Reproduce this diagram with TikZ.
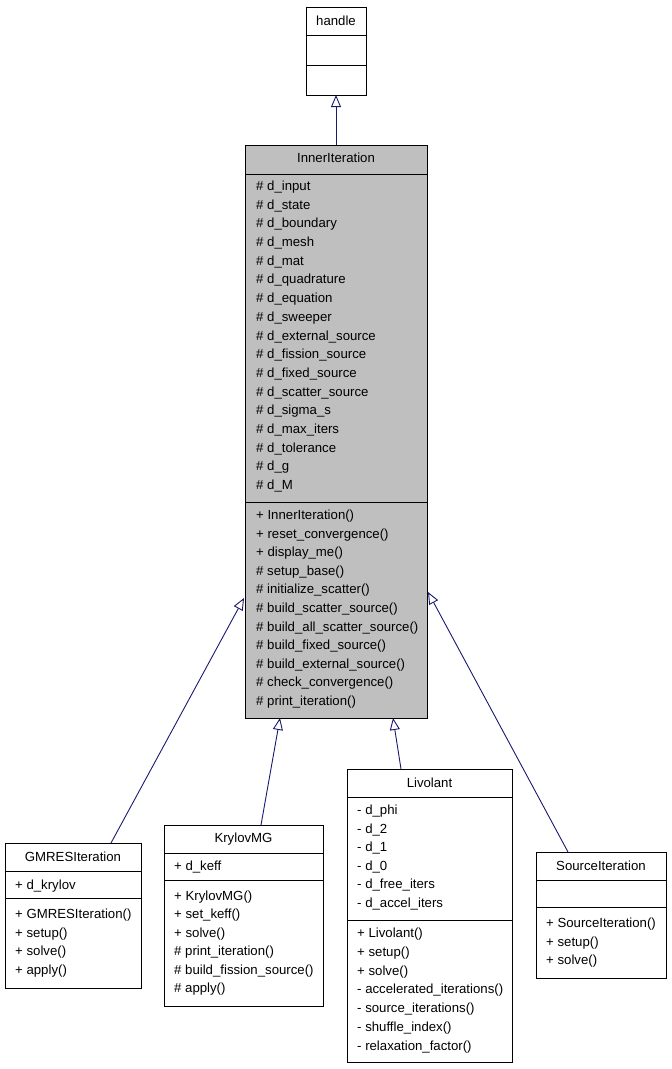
\documentclass[tikz,border=0pt]{standalone}
\usepackage{fontspec}
\setmainfont{Liberation Sans}
\usetikzlibrary{arrows.meta}
\definecolor{navy}{HTML}{191970}
\begin{document}
\begin{tikzpicture}[x=1pt,y=-1pt,font=\fontsize{13.2}{15}\selectfont,
  box/.style={draw=black,line width=1pt,inner sep=0,outer sep=0},
  mem/.style={anchor=west,inner sep=0},
  ttl/.style={anchor=center,inner sep=0},
  inh/.style={draw=navy,line width=0.9pt,-{Triangle[open,length=12pt,width=10pt]}}]
\useasboundingbox (0,0) rectangle (672,1069);
% handle
\node[box,minimum width=60pt,minimum height=88pt,anchor=north west] (handle) at (306,7) {};
\draw[line width=1pt] (306,35)--(366,35) (306,65)--(366,65);
\node[ttl] (thandle) at (336,21) {handle};
% InnerIteration
\node[box,fill=black!25,minimum width=182pt,minimum height=573pt,anchor=north west] (inner) at (245,145) {};
\draw[line width=1pt] (245,174)--(427,174) (245,502)--(427,502);
\node[ttl] (tinner) at (336,158) {InnerIteration};
\foreach \t [count=\i from 0] in {d\_input,d\_state,d\_boundary,d\_mesh,d\_mat,d\_quadrature,d\_equation,d\_sweeper,d\_external\_source,d\_fission\_source,d\_fixed\_source,d\_scatter\_source,d\_sigma\_s,d\_max\_iters,d\_tolerance,d\_g,d\_M}
  \node[mem] (ia\i) at (256,187+18.7*\i) {\# \t};
\foreach \t [count=\i from 0] in {+ InnerIteration(),+ reset\_convergence(),+ display\_me(),\# setup\_base(),\# initialize\_scatter(),\# build\_scatter\_source(),\# build\_all\_scatter\_source(),\# build\_fixed\_source(),\# build\_external\_source(),\# check\_convergence(),\# print\_iteration()}
  \node[mem] (im\i) at (256,516+18.6*\i) {\t};
% GMRES
\node[box,minimum width=136pt,minimum height=145pt,anchor=north west] (gmres) at (5,843) {};
\draw[line width=1pt] (5,871)--(141,871) (5,898)--(141,898);
\node[ttl] (tg) at (73,857) {GMRESIteration};
\node[mem] (ga) at (15,886) {+ d\_krylov};
\foreach \t [count=\i from 0] in {+ GMRESIteration(),+ setup(),+ solve(),+ apply()}
  \node[mem] (gm\i) at (15,915+18.7*\i) {\t};
% KrylovMG
\node[box,minimum width=159pt,minimum height=181pt,anchor=north west] (kry) at (164,825) {};
\draw[line width=1pt] (164,853)--(323,853) (164,880)--(323,880);
\node[ttl] (tk) at (243.5,839) {KrylovMG};
\node[mem] (ka) at (174,867) {+ d\_keff};
\foreach \t [count=\i from 0] in {+ KrylovMG(),+ set\_keff(),+ solve(),\# print\_iteration(),\# build\_fission\_source(),\# apply()}
  \node[mem] (km\i) at (174,897+18.5*\i) {\t};
% Livolant
\node[box,minimum width=165pt,minimum height=293pt,anchor=north west] (liv) at (347,769) {};
\draw[line width=1pt] (347,797)--(512,797) (347,920)--(512,920);
\node[ttl] (tl) at (429.5,783) {Livolant};
\foreach \t [count=\i from 0] in {d\_phi,d\_2,d\_1,d\_0,d\_free\_iters,d\_accel\_iters}
  \node[mem] (la\i) at (357,811+18.6*\i) {- \t};
\foreach \t [count=\i from 0] in {+ Livolant(),+ setup(),+ solve(),- accelerated\_iterations(),- source\_iterations(),- shuffle\_index(),- relaxation\_factor()}
  \node[mem] (lm\i) at (357,934+18.8*\i) {\t};
% SourceIteration
\node[box,minimum width=130pt,minimum height=126pt,anchor=north west] (src) at (536,852) {};
\draw[line width=1pt] (536,880)--(666,880) (536,907)--(666,907);
\node[ttl] (ts) at (601,866) {SourceIteration};
\foreach \t [count=\i from 0] in {+ SourceIteration(),+ setup(),+ solve()}
  \node[mem] (sm\i) at (546,924+18.7*\i) {\t};
% inheritance
\coordinate (h1) at (336,145); \coordinate (h2) at (336,95);
\draw[inh] (h1) -- (h2);
\coordinate (g1) at (111,843); \coordinate (g2) at (244,598);
\draw[inh] (g1) -- (g2);
\coordinate (k1) at (261,825); \coordinate (k2) at (280,718);
\draw[inh] (k1) -- (k2);
\coordinate (l1) at (401,769); \coordinate (l2) at (393,718);
\draw[inh] (l1) -- (l2);
\coordinate (s1) at (568,852); \coordinate (s2) at (428,592);
\draw[inh] (s1) -- (s2);
\end{tikzpicture}
\end{document}
